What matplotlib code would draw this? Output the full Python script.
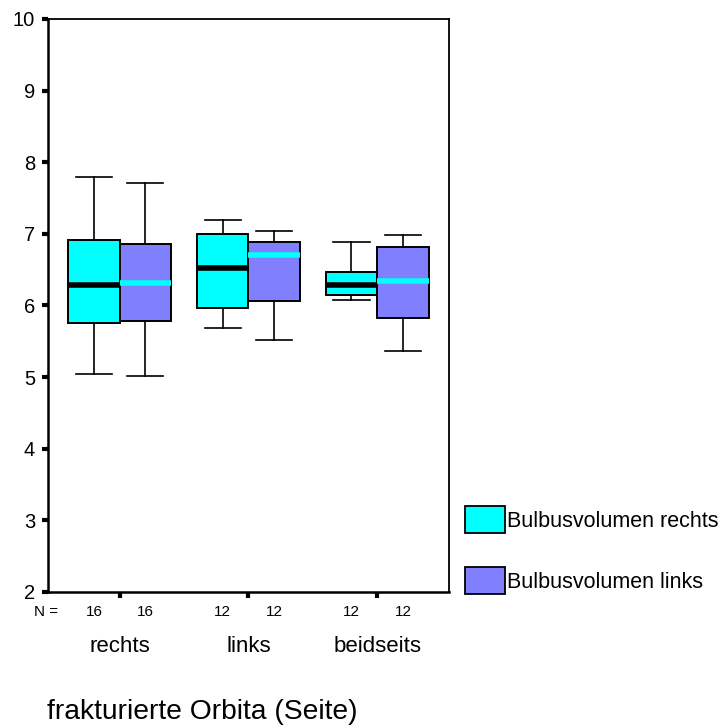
import matplotlib
matplotlib.use("Agg")
import matplotlib.pyplot as plt
from matplotlib.patches import Patch

plt.rcParams['font.family'] = ['Liberation Sans', 'DejaVu Sans']

# data
categories = ['rechts', 'links', 'beidseits']
series_names = ['Bulbusvolumen rechts', 'Bulbusvolumen links']
n_rechts = [16, 12, 12]
n_links = [16, 12, 12]

# Bulbusvolumen rechts
r_whislo = [5.05, 5.69, 6.08]
r_q1 = [5.76, 5.97, 6.14]
r_med = [6.28, 6.53, 6.28]
r_q3 = [6.92, 7.00, 6.47]
r_whishi = [7.80, 7.20, 6.89]

# Bulbusvolumen links
l_whislo = [5.02, 5.52, 5.36]
l_q1 = [5.78, 6.06, 5.83]
l_med = [6.31, 6.70, 6.34]
l_q3 = [6.86, 6.89, 6.81]
l_whishi = [7.71, 7.04, 6.98]

y_ticks = [2, 3, 4, 5, 6, 7, 8, 9, 10]

CYAN = '#00FFFF'
PURPLE = '#8080FF'


def make_stats(whislo, q1, med, q3, whishi):
    return [dict(whislo=a, q1=b, med=c, q3=d, whishi=e, fliers=[])
            for a, b, c, d, e in zip(whislo, q1, med, q3, whishi)]


fig = plt.figure(figsize=(7.23, 7.27), dpi=100)
ax = fig.add_axes([0.066, 0.1857, 0.555, 0.7882])

x = [1, 2, 3]
offset = 0.2
width = 0.4

for stats, pos, face, medcol in [
    (make_stats(r_whislo, r_q1, r_med, r_q3, r_whishi), [v - offset for v in x], CYAN, 'black'),
    (make_stats(l_whislo, l_q1, l_med, l_q3, l_whishi), [v + offset for v in x], PURPLE, CYAN),
]:
    ax.bxp(stats, positions=pos, widths=width, capwidths=0.28,
           patch_artist=True, showfliers=False, manage_ticks=False,
           boxprops=dict(facecolor=face, edgecolor='black', linewidth=1.4),
           medianprops=dict(color=medcol, linewidth=4, solid_capstyle='butt'),
           whiskerprops=dict(color='black', linewidth=1.2),
           capprops=dict(color='black', linewidth=1.2))

ax.set_xlim(0.441, 3.557)
ax.set_ylim(2, 10)
ax.set_yticks(y_ticks)
ax.set_yticklabels([str(t) for t in y_ticks], fontsize=14.5)
ax.set_xticks(x)
ax.set_xticklabels(categories, fontsize=16)

ax.tick_params(axis='y', direction='out', length=4, width=3, pad=5)
ax.tick_params(axis='x', direction='out', length=4, width=3, pad=28)

for side in ['left', 'bottom']:
    ax.spines[side].set_linewidth(1.8)
for side in ['top', 'right']:
    ax.spines[side].set_linewidth(1.3)

# N counts under each box
trans = ax.get_xaxis_transform()
ax.text(-0.004, -0.035, 'N =', transform=ax.transAxes, ha='center', va='center', fontsize=11)
for xi, nr, nl in zip(x, n_rechts, n_links):
    ax.text(xi - offset, -0.035, str(nr), transform=trans, ha='center', va='center', fontsize=11)
    ax.text(xi + offset, -0.035, str(nl), transform=trans, ha='center', va='center', fontsize=11)

fig.text(47 / 723, 1 - 712 / 727, 'frakturierte Orbita (Seite)',
         ha='left', va='center', fontsize=20.3)

handles = [Patch(facecolor=CYAN, edgecolor='black', linewidth=1.3),
           Patch(facecolor=PURPLE, edgecolor='black', linewidth=1.3)]
fig.legend(handles, series_names, loc='upper left',
           bbox_to_anchor=(465 / 723, 1 - 506 / 727), frameon=False,
           fontsize=15.5, handlelength=1.85, handleheight=1.56,
           handletextpad=0.1, labelspacing=1.58, borderpad=0, borderaxespad=0)

fig.savefig('out.png', dpi=100)
